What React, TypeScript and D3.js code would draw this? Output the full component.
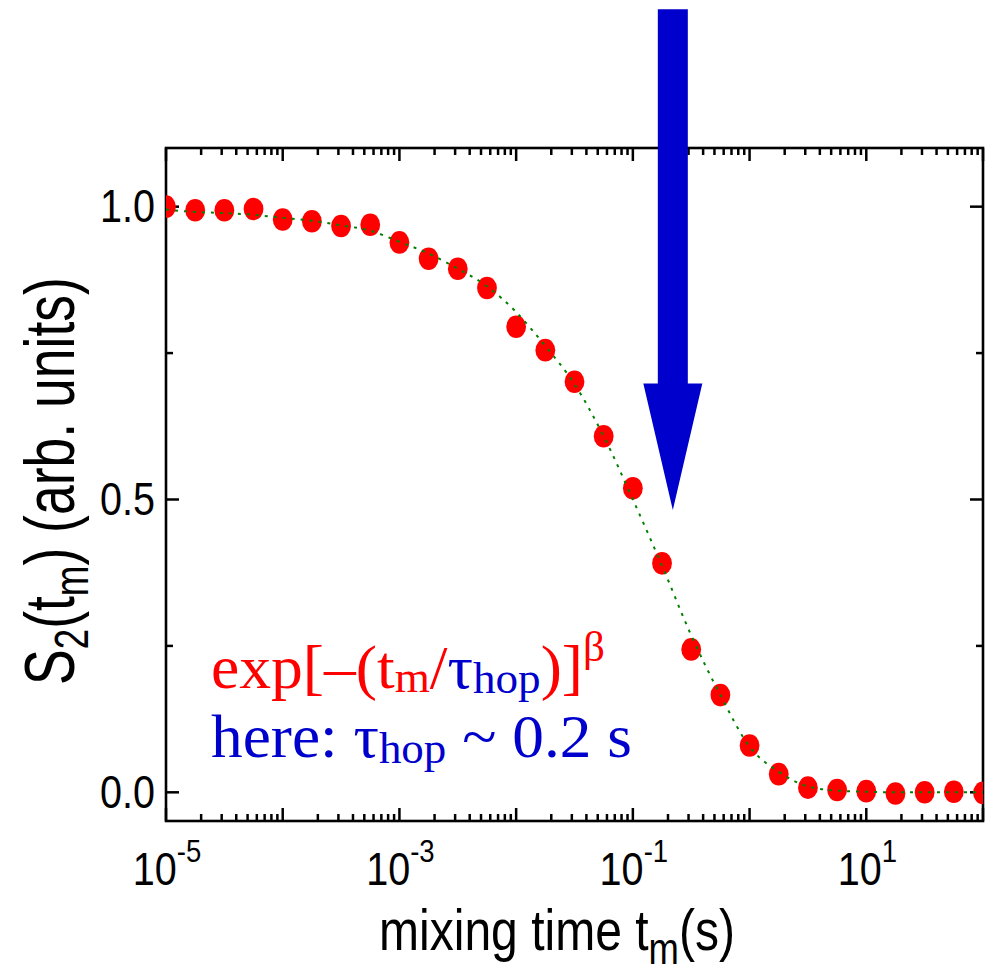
import React, { useRef, useLayoutEffect, useState } from 'react';
import * as d3 from 'd3';

// ---------- data ----------
const logTime = [-5, -4.75, -4.5, -4.25, -4, -3.75, -3.5, -3.25, -3, -2.75, -2.5, -2.25, -2, -1.75, -1.5, -1.25, -1, -0.75, -0.5, -0.25, 0, 0.25, 0.5, 0.75, 1, 1.25, 1.5, 1.75, 2];
const s2Values = [1.0, 0.994, 0.994, 0.996, 0.978, 0.975, 0.967, 0.969, 0.939, 0.911, 0.894, 0.861, 0.795, 0.755, 0.701, 0.608, 0.519, 0.391, 0.244, 0.166, 0.08, 0.031, 0.008, 0.004, 0.002, -0.002, 0.0, 0.001, -0.001];
const fitValues = [0.995, 0.991, 0.989, 0.986, 0.981, 0.976, 0.968, 0.959, 0.94, 0.92, 0.894, 0.864, 0.82, 0.762, 0.697, 0.608, 0.5, 0.387, 0.268, 0.166, 0.078, 0.035, 0.01, 0.003, 0.001, 0, 0, 0, 0];
const xMajorExp = [-5, -4, -3, -2, -1, 0, 1, 2];
const xLabelExp = [-5, -3, -1, 1];
const xLabelSup = ['-5', '-3', '-1', '1'];
const yMajor = [0, 0.5, 1.0];
const yMinor = [0.25, 0.75];
const yLabels = ['0.0', '0.5', '1.0'];
// annotation: arrow marking tau_hop
const arrowT = 0.22;
const arrowTopV = 1.337;
const arrowHeadBaseV = 0.698;
const arrowTipV = 0.482;

const W = 989, H = 973;
const L = 166, R = 983, T = 148, B = 821;

const x = d3.scaleLog().domain([1e-5, 1e2]).range([L, R]);
const y = d3.scaleLinear().domain([-0.05, 1.1]).range([821.6, 148.1]);

const SANS = '"Liberation Sans", Arial, Helvetica, sans-serif';
const SERIF = '"Liberation Serif", "Times New Roman", Times, serif';
const RED = '#ff0000';
const BLUE = '#0000cc';
const GREEN = '#008000';

function Fit({ x0, y0, w, children }: any) {
  const ref = useRef<SVGGElement>(null);
  const [tr, setTr] = useState(`translate(${x0},${y0})`);
  useLayoutEffect(() => {
    const g = ref.current;
    if (!g) return;
    const bb = g.getBBox();
    if (bb.width > 0) {
      const sx = w / bb.width;
      setTr(`translate(${x0 - bb.x * sx},${y0}) scale(${sx},1)`);
    }
  }, [x0, y0, w]);
  return (
    <g transform={tr}>
      <g ref={ref}>{children}</g>
    </g>
  );
}

export default function App() {
  const minor: number[] = [];
  for (let e = -5; e < 2; e++) for (let m = 2; m <= 9; m++) minor.push(m * Math.pow(10, e));
  const pts = logTime.map((lt, i) => ({ t: Math.pow(10, lt), v: s2Values[i], f: fitValues[i] }));
  const line = d3
    .line<any>()
    .x((d) => x(d.t))
    .y((d) => y(d.f))
    .curve(d3.curveMonotoneX);

  const ax = x(arrowT);
  const arrowPts = [
    [ax - 15, y(arrowTopV)],
    [ax + 15, y(arrowTopV)],
    [ax + 15, y(arrowHeadBaseV)],
    [ax + 29.5, y(arrowHeadBaseV)],
    [ax, y(arrowTipV)],
    [ax - 29.5, y(arrowHeadBaseV)],
    [ax - 15, y(arrowHeadBaseV)],
  ]
    .map((p) => p.join(','))
    .join(' ');

  return (
    <svg width={W} height={H} style={{ position: 'absolute', left: 0, top: 0, background: '#fff' }}>
      <defs>
        <clipPath id="plot">
          <rect x={L} y={T} width={R - L} height={B - T} />
        </clipPath>
      </defs>
      <rect x={0} y={0} width={W} height={H} fill="#fff" />
      {/* ticks */}
      <g stroke="#000" strokeWidth={2.5}>
        {xMajorExp.map((e) => {
          const px = x(Math.pow(10, e));
          return (
            <g key={'xM' + e}>
              <line x1={px} x2={px} y1={B} y2={B - 13} />
              <line x1={px} x2={px} y1={T} y2={T + 13} />
            </g>
          );
        })}
        {minor.map((v, i) => {
          const px = x(v);
          return (
            <g key={'xm' + i}>
              <line x1={px} x2={px} y1={B} y2={B - 7} />
              <line x1={px} x2={px} y1={T} y2={T + 7} />
            </g>
          );
        })}
        {yMajor.map((v) => (
          <g key={'yM' + v}>
            <line x1={L} x2={L + 13} y1={y(v)} y2={y(v)} />
            <line x1={R} x2={R - 13} y1={y(v)} y2={y(v)} />
          </g>
        ))}
        {yMinor.map((v) => (
          <g key={'ym' + v}>
            <line x1={L} x2={L + 7} y1={y(v)} y2={y(v)} />
            <line x1={R} x2={R - 7} y1={y(v)} y2={y(v)} />
          </g>
        ))}
      </g>
      <rect x={L} y={T} width={R - L} height={B - T} fill="none" stroke="#000" strokeWidth={2.6} />
      {/* data */}
      <g clipPath="url(#plot)">
        {pts.map((d, i) => (
          <ellipse key={i} cx={x(d.t)} cy={y(d.v)} rx={9.9} ry={11.3} fill={RED} />
        ))}
        <path d={line(pts) || ''} fill="none" stroke={GREEN} strokeWidth={2} strokeDasharray="3 6" />
      </g>
      {/* tick labels */}
      <g fontFamily={SANS} fill="#000">
        {yMajor.map((v, i) => (
          <g key={'yl' + v} transform={`translate(155,${y(v) + 15.5}) scale(0.86,1)`}>
            <text x={0} y={0} fontSize={46} textAnchor="end">
              {yLabels[i]}
            </text>
          </g>
        ))}
        {xLabelExp.map((e, i) => {
          const px = x(Math.pow(10, e));
          return (
            <g key={'xl' + e} transform={`translate(${px + 1},885) scale(0.86,1)`}>
              <text x={0} y={0} fontSize={46} textAnchor="middle">
                10
                <tspan dy={-23} fontSize={32}>
                  {xLabelSup[i]}
                </tspan>
              </text>
            </g>
          );
        })}
      </g>
      {/* axis titles */}
      <Fit x0={379} y0={950} w={356}>
        <text fontFamily={SANS} fontSize={58} fill="#000">
          {'mixing time t'}
          <tspan dy={14} fontSize={44}>m</tspan>
          <tspan dy={-14}>(s)</tspan>
        </text>
      </Fit>
      <g transform="translate(74,0) rotate(-90)">
        <Fit x0={-685} y0={0} w={408}>
          <text fontFamily={SANS} fontSize={70} fill="#000">
            S
            <tspan dy={14} fontSize={48}>2</tspan>
            <tspan dy={-14}>(t</tspan>
            <tspan dy={14} fontSize={48}>m</tspan>
            <tspan dy={-14}>{') (arb. units)'}</tspan>
          </text>
        </Fit>
      </g>
      {/* formula text */}
      <Fit x0={211} y0={688} w={394}>
        <text fontFamily={SERIF} fontSize={62} fill={RED}>
          {'exp[\u2013(t'}
          <tspan dy={4} fontSize={44}>m</tspan>
          <tspan dy={-4}>/</tspan>
          <tspan fill={BLUE}>{'\u03c4'}</tspan>
          <tspan fill={BLUE} dy={5} fontSize={44}>hop</tspan>
          <tspan dy={-5}>)]</tspan>
          <tspan dy={-27} fontSize={42}>{'\u03b2'}</tspan>
        </text>
      </Fit>
      <Fit x0={211} y0={757} w={421}>
        <text fontFamily={SERIF} fontSize={62} fill={BLUE}>
          {'here: \u03c4'}
          <tspan dy={6} fontSize={44}>hop</tspan>
          <tspan dy={-6}>{' ~ 0.2 s'}</tspan>
        </text>
      </Fit>
      {/* arrow */}
      <polygon points={arrowPts} fill={BLUE} />
    </svg>
  );
}
